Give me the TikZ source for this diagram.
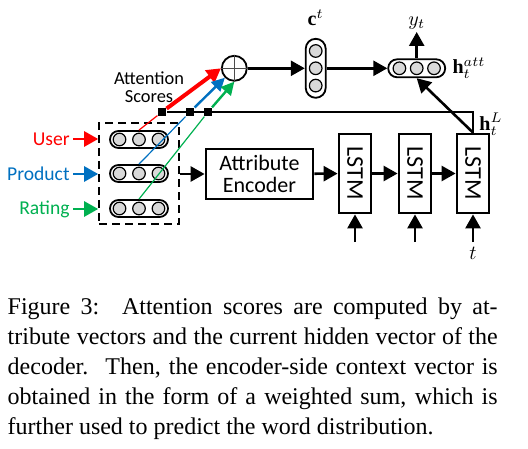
\documentclass[tikz,border=0pt]{standalone}
\usepackage{fontspec}
\setmainfont{Liberation Serif}
\newfontfamily\figfont{Carlito}
\usepackage{amsmath,amssymb}
\usepackage{tikz}
\usetikzlibrary{calc}
\usetikzlibrary{arrows.meta}
\definecolor{userred}{RGB}{255,0,0}
\definecolor{prodblue}{RGB}{0,112,192}
\definecolor{rategreen}{RGB}{0,176,80}
\tikzstyle{vec}=[
    draw,
    rounded corners=4.25pt,
    minimum width=29pt,
    minimum height=8.5pt,
    inner sep=0pt,
    line width=0.9pt
]
\tikzstyle{unit}=[draw, circle, fill=gray!30, minimum size=6.3pt, inner sep=0pt, line width=0.6pt]
\tikzstyle{block}=[draw, line width=1.4pt, inner sep=0pt]
\tikzstyle{arr}=[-{Triangle[length=7pt,width=7.5pt]}, line width=1.3pt]
\tikzstyle{score}=[fill, rectangle, minimum size=4.2pt, inner sep=0pt]
\tikzstyle{txt}=[font=\figfont\fontsize{9.8}{10}\selectfont, inner sep=1.5pt]
\tikzstyle{math}=[font=\fontsize{10}{10}\selectfont, inner sep=1pt]
\tikzstyle{capline}=[anchor=base west, inner sep=0pt, font=\fontsize{12}{15}\selectfont]

\begin{document}
\begin{tikzpicture}[x=0.5pt,y=-0.5pt]
        \useasboundingbox (0,0) rectangle (528,448);

        % attribute vectors
        \node[draw, dash pattern=on 4pt off 2.5pt, line width=0.8pt, minimum width=40pt, minimum height=50.5pt, inner sep=0pt] (attr) at (139,173.5) {};
        \node[vec] (user) at (139,139.5) {};
        \node[vec] (prod) at (139,173.5) {};
        \node[vec] (rate) at (139,208.5) {};
        \foreach \v in {user,prod,rate}
            \foreach \i in {-1,0,1}
                \node[unit] at ($(\v)+(\i*19.5,0)$) {};

        \node[txt, anchor=east, text=userred] (ulab) at (73,139) {User};
        \node[txt, anchor=east, text=prodblue] (plab) at (73,174) {Product};
        \node[txt, anchor=east, text=rategreen] (rlab) at (73,209) {Rating};
        \draw[arr, userred] (ulab.east) -- (ulab.east -| attr.west);
        \draw[arr, prodblue] (plab.east) -- (plab.east -| attr.west);
        \draw[arr, rategreen] (rlab.east) -- (rlab.east -| attr.west);

        % attention scores
        \node[score] (s1) at (162,112) {};
        \node[score] (s2) at (190,112) {};
        \node[score] (s3) at (208,112) {};
        \node[txt, align=center, font=\figfont\fontsize{9.2}{9}\selectfont] (attn) at (149,87) {Attention\\Scores};

        \node[draw, circle, minimum size=12.5pt, inner sep=0pt, line width=0.9pt] (plus) at (234.3,68.3) {};
        \draw[gray!60!black, line width=0.5pt] (plus.north) -- (plus.south) (plus.west) -- (plus.east);

        \draw[userred, line width=0.6pt] (user.north) -- (s1);
        \draw[prodblue, line width=0.6pt] (prod.north) -- (s2);
        \draw[rategreen, line width=0.6pt] (rate.north) -- (s3);
        \draw[arr, userred, line width=2pt] (s1) -- (plus.west);
        \draw[arr, prodblue, line width=1.2pt, -{Triangle[length=6.5pt,width=6.5pt]}] (s2) -- (plus.south west);
        \draw[arr, rategreen, line width=1.2pt, -{Triangle[length=6.5pt,width=6.5pt]}] (s3) -- (plus.south);

        % encoder
        \node[block, minimum width=53.5pt, minimum height=25pt, align=center, font=\figfont\fontsize{11}{10.8}\selectfont] (enc) at (259.5,174) {Attribute\\Encoder};
        \draw[arr] (attr.east |- enc) -- (enc);

        % decoder
        \foreach \x/\n in {355/l1,415/l2,473/l3}{
            \node[block, minimum width=16pt, minimum height=39.5pt] (\n) at (\x,173.5) {};
            \node[rotate=-90, font=\figfont\fontsize{12}{12}\selectfont] at (\n) {LSTM};
            \coordinate (in\n) at (\x,242);
            \draw[arr] (in\n) -- (\n);
        }
        \draw[arr] (enc) -- (l1);
        \draw[arr] (l1) -- (l2);
        \draw[arr] (l2) -- (l3);
        \node[math] (tin) at (473,253) {$t$};

        \draw[line width=0.8pt] (l3.north) |- (s1);
        \node[math, anchor=north west, inner sep=0pt, xshift=3pt, yshift=-0.5pt] (hl) at (l3.north |- s1) {$\mathbf{h}_t^L$};

        % context and output
        \node[vec, minimum width=10pt, minimum height=29.5pt, rounded corners=5pt] (cvec) at (315.7,68.3) {};
        \foreach \i in {-1,0,1}
            \node[unit] at ($(cvec)+(0,\i*17.3)$) {};
        \node[vec, minimum width=28.5pt, minimum height=9pt, rounded corners=4.5pt] (hatt) at (416.7,68.3) {};
        \foreach \i in {-1,0,1}
            \node[unit] at ($(hatt)+(\i*17.3,0)$) {};

        \draw[arr] (plus) -- (cvec);
        \draw[arr] (cvec) -- (hatt);
        \draw[arr] (l3.north) -- (hatt.south);
        \node[math, anchor=south] (yt) at (416.7,32) {$y_t$};
        \draw[arr] (hatt) -- (yt);

        \node[math] (clab) at (315.7,18) {$\mathbf{c}^t$};
        \node[math, anchor=west, inner sep=3pt] (hlab) at (hatt.east) {$\mathbf{h}_t^{att}$};

        % caption
        \node[capline] (cap1) at (7.3,314) {\makebox[245pt][s]{Figure~3:\hspace{3pt} Attention scores are computed by at-}};
        \node[capline] (cap2) at (7.3,344) {\makebox[245pt][s]{tribute vectors and the current hidden vector of the}};
        \node[capline] (cap3) at (7.3,374) {\makebox[245pt][s]{decoder.\hspace{2pt} Then, the encoder-side context vector is}};
        \node[capline] (cap4) at (7.3,404) {\makebox[245pt][s]{obtained in the form of a weighted sum, which is}};
        \node[capline] (cap5) at (7.3,434) {further used to predict the word distribution.};

    \end{tikzpicture}
\end{document}
